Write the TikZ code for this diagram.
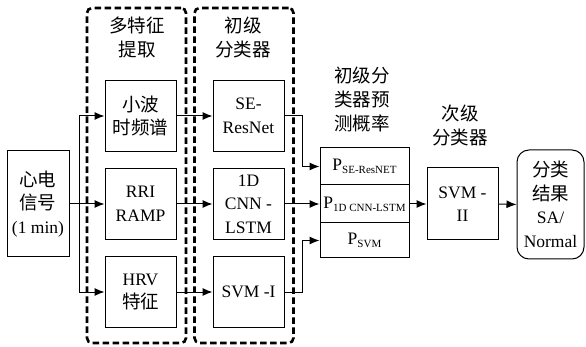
\documentclass[tikz,border=0pt]{standalone}
\usepackage{fontspec}
\setmainfont{Liberation Serif}
\newfontfamily\cjk{Noto Sans CJK SC}
\usetikzlibrary{arrows.meta}
\newcommand\zh[1]{{\cjk\fontsize{18.5}{23.5}\selectfont #1}}
\newcommand\Psub[1]{P\raisebox{-0.4ex}{\fontsize{11}{12}\selectfont #1}}
\begin{document}
\begin{tikzpicture}[x=1pt,y=-1pt,
 box/.style={draw, line width=1pt, minimum width=71pt, minimum height=71pt, align=center, inner sep=0pt, font=\fontsize{17.5}{23.5}\selectfont},
 pbox/.style={draw, line width=1pt, minimum width=89pt, align=center, inner sep=0pt, font=\fontsize{17.5}{20}\selectfont},
 arr/.style={-{Latex[length=10pt,width=8pt]}, line width=1pt},
 grp/.style={draw, line width=2.6pt, dash pattern=on 6.5pt off 3.5pt, rounded corners=5pt, minimum width=99pt, minimum height=335pt, inner sep=0pt},
 lbl/.style={align=center, inner sep=0pt, font=\fontsize{17.5}{24}\selectfont}]
\useasboundingbox (0,0) rectangle (586,347);
\fill[white] (0,0) rectangle (586,347);
% groups
\node[grp] (g1) at (136.5,175.5) {};
\node[grp] (g2) at (244,175.5) {};
% titles
\node[lbl] (t1) at (137,37.5) {\zh{多特征}\\\zh{提取}};
\node[lbl] (t2) at (243,37.5) {\zh{初级}\\\zh{分类器}};
\node[lbl] (t3) at (362,99) {\zh{初级分}\\\zh{类器预}\\\zh{测概率}};
\node[lbl] (t4) at (460,125) {\zh{次级}\\\zh{分类器}};
% input
\node[box, minimum width=62pt, minimum height=106pt] (ecg) at (38,204) {\zh{心电}\\\zh{信号}\\(1 min)};
% features
\node[box] (f1) at (140.5,116) {\zh{小波}\\\zh{时频谱}};
\node[box] (f2) at (140.5,204) {RRI\\RAMP};
\node[box] (f3) at (140.5,292) {HRV\\\zh{特征}};
% classifiers
\node[box] (c1) at (248.5,116) {SE-\\ResNet};
\node[box] (c2) at (248.5,204) {1D\\CNN -\\LSTM};
\node[box] (c3) at (248.5,292) {SVM -I};
% probabilities
\node[pbox, minimum height=37pt] (p1) at (364.5,166.5) {\Psub{SE-ResNET}};
\node[pbox, minimum height=38pt] (p2) at (364.5,204) {\Psub{1D CNN-LSTM}};
\node[pbox, minimum height=35pt] (p3) at (364.5,240.5) {\Psub{SVM}};
% second level
\node[box, minimum height=72pt] (s2) at (462.5,204) {SVM -\\II};
\node[box, minimum width=67pt, minimum height=109pt, rounded corners=12pt] (res) at (550.5,204.5) {\zh{分类}\\\zh{结果}\\SA/\\Normal};
% connectors
\coordinate (sp) at (79,204);
\draw[arr] (ecg.east) -- (f2.west);
\draw[arr] (sp) |- (f1.west);
\draw[arr] (sp) |- (f3.west);
\draw[arr] (f1.east) -- (c1.west);
\draw[arr] (f2.east) -- (c2.west);
\draw[arr] (f3.east) -- (c3.west);
\draw[arr] (c1.east) -- ++(18,0) |- (p1.west);
\draw[arr] (c2.east) -- (p2.west);
\draw[arr] (c3.east) -- ++(18,0) |- (p3.west);
\draw[arr] (p2.east) -- (s2.west);
\draw[arr] (s2.east) -- (res.west);
\end{tikzpicture}
\end{document}
